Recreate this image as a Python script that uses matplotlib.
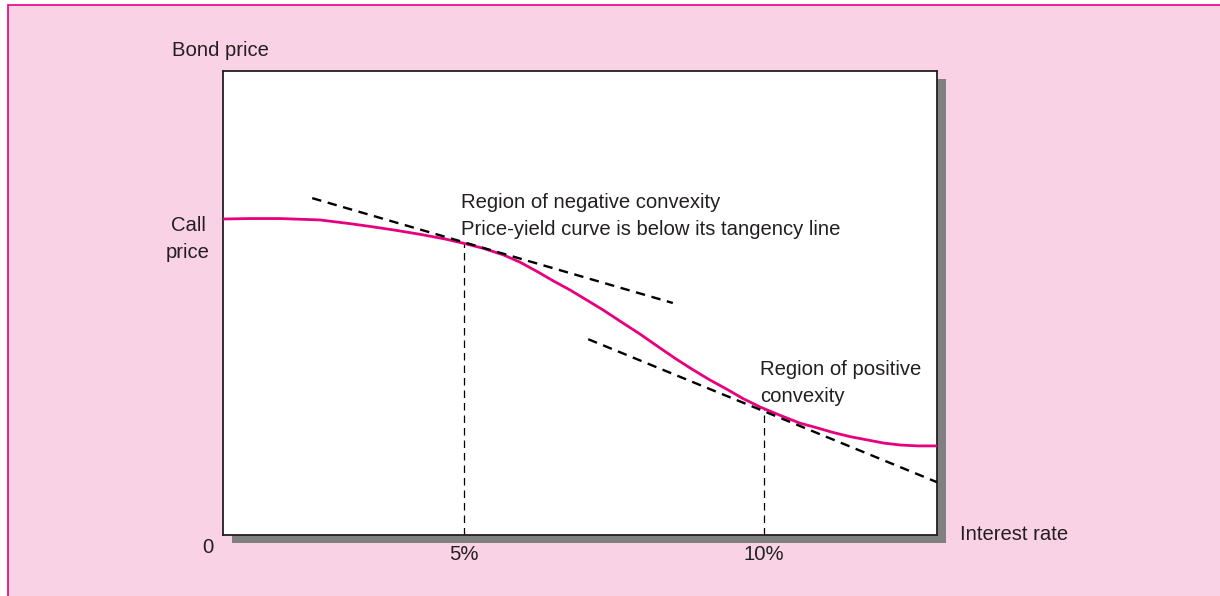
import numpy as np
import matplotlib
matplotlib.use('Agg')
import matplotlib.pyplot as plt
from matplotlib.patches import Rectangle

plt.rcParams['font.family'] = ['Liberation Sans', 'DejaVu Sans']

# price-yield curve of a callable bond (x = interest rate in %, y = price, arbitrary units)
rate = [0.983, 1.433, 1.933, 2.6, 3.1, 3.433, 3.85, 4.267, 4.683, 4.983, 5.317,
        5.65, 5.933, 6.217, 6.483, 6.767, 7.05, 7.317, 7.6, 7.933, 8.267, 8.55,
        8.817, 9.1, 9.383, 9.65, 9.933, 10.267, 10.6, 10.883, 11.15, 11.433,
        11.717, 12.0, 12.267, 12.567, 12.883]
price = [68.1, 68.2, 68.2, 67.9, 67.1, 66.5, 65.7, 64.8, 63.8, 62.9, 61.8,
         60.4, 58.8, 56.8, 54.8, 52.8, 50.6, 48.5, 46.1, 43.3, 40.3, 37.8,
         35.6, 33.4, 31.4, 29.4, 27.6, 25.8, 24.1, 23.1, 22.1, 21.2,
         20.5, 19.8, 19.4, 19.2, 19.2]

# tangency lines (end points)
tan1_x = [2.47, 8.48]
tan1_y = [72.6, 50.0]
tan2_x = [7.07, 12.88]
tan2_y = [42.2, 11.4]

# points where the tangents touch
touch_x = [5.0, 10.0]
touch_y = [62.9, 27.1]

tick_pos = [5, 10]
tick_labels = ['5%', '10%']

W, H = 1220, 596
fig = plt.figure(figsize=(W / 100, H / 100), dpi=100)
fig.patch.set_facecolor('white')

# pink panel with magenta border
fig.patches.append(Rectangle((8 / W, -0.1), 1.2, 1 - 5 / H + 0.1, transform=fig.transFigure,
                             facecolor='#F9D3E5', edgecolor='#E6007E', lw=1.2, zorder=-3))

ax_l, ax_b, ax_w, ax_h = 223 / W, (H - 535) / H, (937 - 223) / W, (535 - 71) / H
# drop shadow
fig.patches.append(Rectangle((ax_l + 9 / W, ax_b - 8 / H), ax_w, ax_h, transform=fig.transFigure,
                             facecolor='#808080', edgecolor='none', zorder=-2))

ax = fig.add_axes([ax_l, ax_b, ax_w, ax_h])
ax.set_zorder(0)
ax.set_facecolor('white')
ax.set_xlim(0.983, 12.883)
ax.set_ylim(0, 100)
ax.set_xticks([])
ax.set_yticks([])
for s in ax.spines.values():
    s.set_color('#231F20')
    s.set_linewidth(1.3)

ax.plot(rate, price, color='#E6007E', lw=2.0, solid_joinstyle='round', zorder=3)
ax.plot(tan1_x, tan1_y, color='black', lw=1.7, ls=(0, (4, 2.8)), zorder=4)
ax.plot(tan2_x, tan2_y, color='black', lw=1.7, ls=(0, (4, 2.8)), zorder=4)
for x, y in zip(touch_x, touch_y):
    ax.plot([x, x], [0, y], color='black', lw=0.9, ls=(0, (6, 4)), zorder=2)

tc = '#231F20'
fs = 14.6
ls = 1.55
for x, lab in zip(tick_pos, tick_labels):
    ax.text(x, -4.3, lab, ha='center', va='center', fontsize=fs, color=tc, clip_on=False)
ax.text(0.733, -2.6, '0', ha='center', va='center', fontsize=fs, color=tc, clip_on=False)
ax.text(0.133, 104.5, 'Bond price', ha='left', va='center', fontsize=fs, color=tc, clip_on=False)
ax.text(0.4, 63.8, 'Call\nprice', ha='center', va='center', fontsize=fs, color=tc,
        linespacing=ls, clip_on=False)
ax.text(13.27, 0, 'Interest rate', ha='left', va='center', fontsize=fs, color=tc, clip_on=False)
ax.text(4.95, 68.7, 'Region of negative convexity\nPrice-yield curve is below its tangency line',
        ha='left', va='center', fontsize=fs, color=tc, linespacing=ls)
ax.text(9.93, 32.8, 'Region of positive\nconvexity', ha='left', va='center', fontsize=fs,
        color=tc, linespacing=ls)

fig.savefig('out.png', dpi=100, facecolor='white')
